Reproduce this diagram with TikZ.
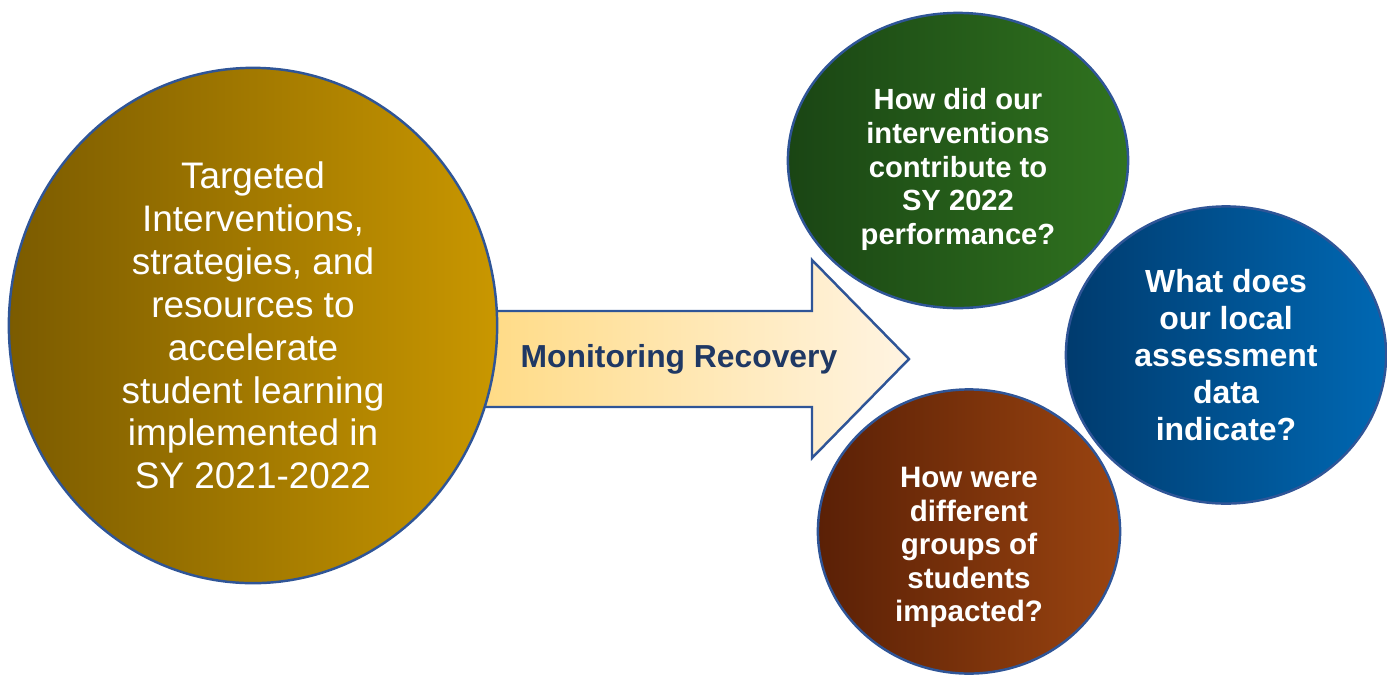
\documentclass[tikz,border=0pt]{standalone}
\usepackage{fontspec}
\setmainfont{Liberation Sans}
\usetikzlibrary{shapes.geometric}
\definecolor{rimblue}{HTML}{2F5597}
\definecolor{navytext}{HTML}{1F3864}
\definecolor{goldleft}{HTML}{7B5B00}
\definecolor{goldright}{HTML}{C99700}
\definecolor{greenleft}{HTML}{1A4514}
\definecolor{greenright}{HTML}{30731F}
\definecolor{blueleft}{HTML}{003B6E}
\definecolor{blueright}{HTML}{0068B3}
\definecolor{brownleft}{HTML}{5A2006}
\definecolor{brownright}{HTML}{9A4410}
\definecolor{arrowleft}{HTML}{FFDB86}
\definecolor{arrowright}{HTML}{FFF4E2}
\tikzset{
  bubble/.style={ellipse, draw=rimblue, line width=0.7pt, inner sep=0pt, align=center, text=white},
  question/.style={align=center, text=white, inner sep=0pt, font=\bfseries\fontsize{8.3}{9.6}\selectfont},
  bigarrow/.style={left color=arrowleft, right color=arrowright, draw=rimblue, line width=0.7pt, line join=miter}
}
\begin{document}
\begin{tikzpicture}[x=0.01cm,y=-0.01cm]
\useasboundingbox (0,0) rectangle (1387,675);
\shade[bigarrow] (485,311) -- (812,311) -- (812,260) -- (909,359) -- (812,458) -- (812,407) -- (485,407) -- cycle;
\node[anchor=base, text=navytext, font=\bfseries\fontsize{9.05}{10.5}\selectfont] (monitor) at (679,367) {Monitoring Recovery};
\node[bubble, left color=goldleft, right color=goldright, minimum width=4.88cm, minimum height=5.15cm,
      font=\fontsize{10.5}{12.2}\selectfont] (targeted) at (253,325.5)
      {Targeted\\Interventions,\\strategies, and\\resources to\\accelerate\\student learning\\implemented in\\SY 2021-2022};
\node[bubble, left color=greenleft, right color=greenright, minimum width=3.40cm, minimum height=2.95cm] (contrib) at (958,160.5) {};
\node[question] (contribtext) at ([yshift=-2.6pt]contrib.center)
      {How did our\\interventions\\contribute to\\SY 2022\\performance?};
\node[bubble, left color=blueleft, right color=blueright, minimum width=3.20cm, minimum height=2.97cm,
      font=\bfseries\fontsize{9.1}{10.5}\selectfont] (local) at (1226,355)
      {What does\\our local\\assessment\\data\\indicate?};
\node[bubble, left color=brownleft, right color=brownright, minimum width=3.02cm, minimum height=2.84cm] (groups) at (969,531.5) {};
\node[question, font=\bfseries\fontsize{8.4}{9.5}\selectfont] (groupstext) at ([yshift=-4.6pt]groups.center)
      {How were\\different\\groups of\\students\\impacted?};
\end{tikzpicture}
\end{document}
